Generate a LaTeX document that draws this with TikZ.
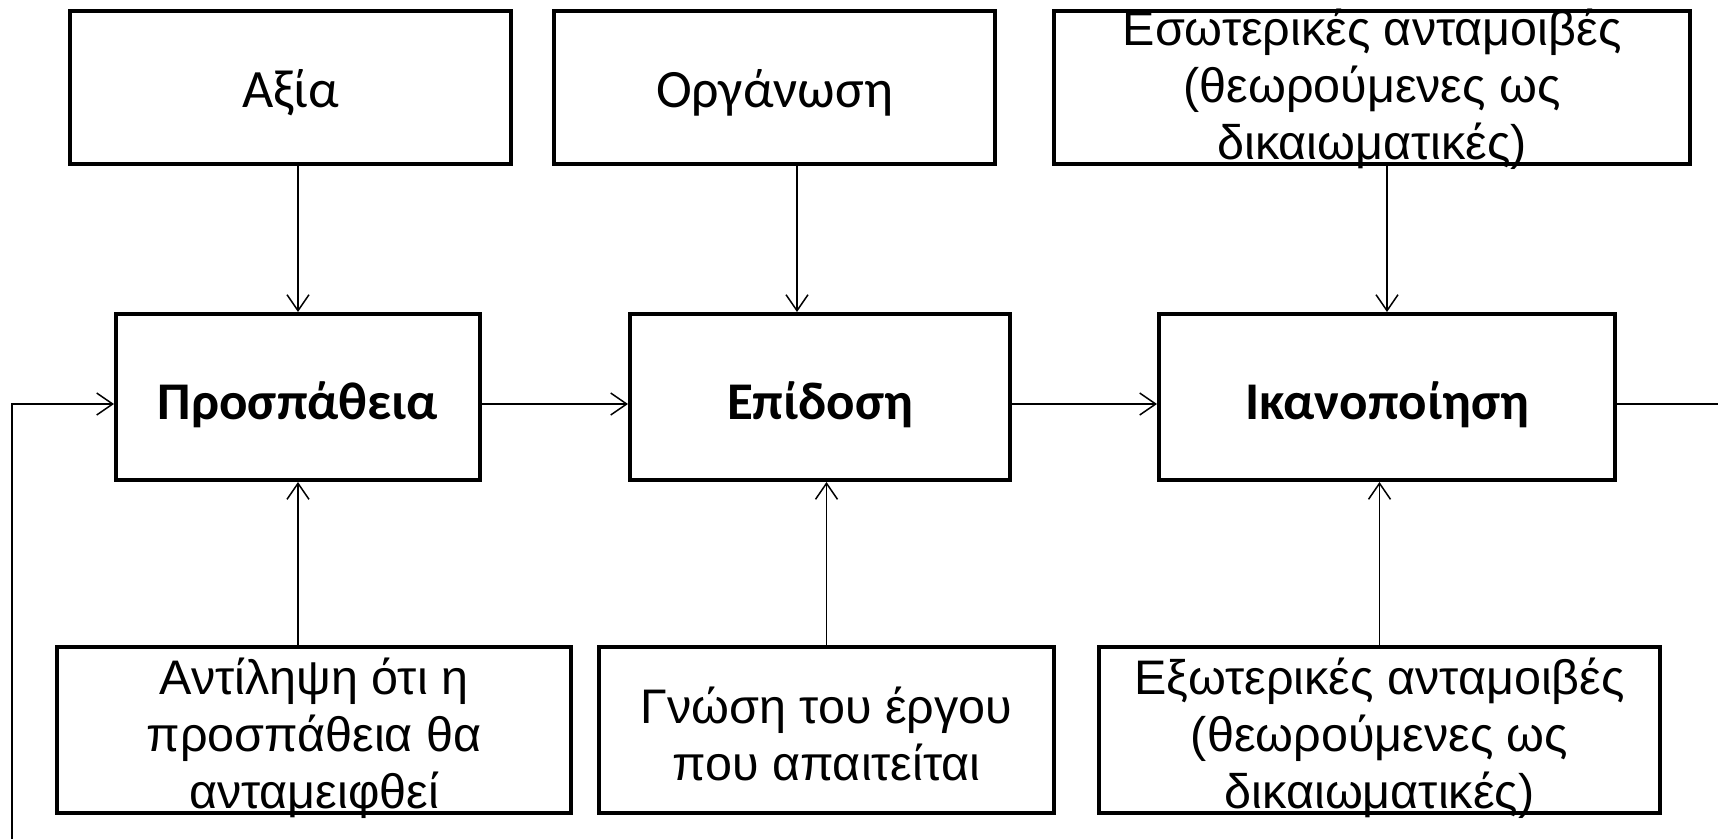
\documentclass[tikz,border=0pt]{standalone}
\usepackage{fontspec}
\setmainfont{Liberation Sans}
\newfontfamily\calfont{Carlito}
\usetikzlibrary{arrows.meta}

\begin{document}
\begin{tikzpicture}[x=1pt,y=-1pt,
  box/.style={draw,line width=4pt,inner sep=0pt,align=center},
  topbox/.style={box,minimum height=153pt,text height=50pt,text depth=10pt,font=\calfont\fontsize{54}{57}\selectfont},
  midbox/.style={box,minimum height=166pt,text height=54pt,text depth=10pt,font=\calfont\bfseries\fontsize{53}{57}\selectfont},
  botbox/.style={box,minimum height=166pt},
  txt/.style={align=center,inner sep=0pt,font=\fontsize{48.5}{57}\selectfont},
  con/.style={line width=1.5pt,-{Straight Barb[length=16pt,width=22pt,line width=1.5pt]}}]
  \useasboundingbox (0,0) rectangle (1718,839);
  \def\tp{87.5}   % top row
  \def\md{397}    % middle row
  \def\bt{730}    % bottom row
  \coordinate (lvl) at (0,404);
  % top row
  \node[topbox,minimum width=441pt] (axia) at (290.5,\tp) {Αξία};
  \node[topbox,minimum width=441pt] (org) at (774.5,\tp) {Οργάνωση};
  \node[topbox,minimum width=636pt] (esw) at (1372,\tp) {};
  \node[txt] (eswtxt) at ([yshift=-2pt]esw.center) {Εσωτερικές ανταμοιβές\\(θεωρούμενες ως\\δικαιωματικές)};
  % middle row
  \node[midbox,minimum width=364pt] (pros) at (298,\md) {Προσπάθεια};
  \node[midbox,minimum width=380pt] (epid) at (820,\md) {Επίδοση};
  \node[midbox,minimum width=456pt] (ikan) at (1387,\md) {Ικανοποίηση};
  % bottom row
  \node[botbox,minimum width=514pt] (antil) at (314,\bt) {};
  \node[txt] (antiltxt) at ([yshift=-8pt]antil.center) {Αντίληψη ότι η\\προσπάθεια θα\\ανταμειφθεί};
  \node[botbox,minimum width=455pt] (gnosi) at (826.5,\bt) {};
  \node[txt] (gnositxt) at ([yshift=-4pt]gnosi.center) {Γνώση του έργου\\που απαιτείται};
  \node[botbox,minimum width=561pt] (exw) at (1379.5,\bt) {};
  \node[txt] (exwtxt) at ([yshift=-8pt]exw.center) {Εξωτερικές ανταμοιβές\\(θεωρούμενες ως\\δικαιωματικές)};
  \coordinate (fbin) at (12,839);
  \coordinate (fbout) at (1718,404);
  % connectors
  \draw[con] (pros.north |- axia.south) -- (pros.north);
  \draw[con] (797,0 |- org.south) -- (797,0 |- epid.north);
  \draw[con] (ikan.north |- esw.south) -- (ikan.north);
  \draw[con] (pros.south |- antil.north) -- (pros.south);
  \draw[con] (gnosi.north) -- (gnosi.north |- epid.south);
  \draw[con] (exw.north) -- (exw.north |- ikan.south);
  \draw[con] (pros.east |- lvl) -- (epid.west |- lvl);
  \draw[con] (epid.east |- lvl) -- (ikan.west |- lvl);
  \draw[line width=1.5pt] (ikan.east |- lvl) -- (fbout);
  \draw[con] (fbin) |- (pros.west |- lvl);
\end{tikzpicture}
\end{document}
